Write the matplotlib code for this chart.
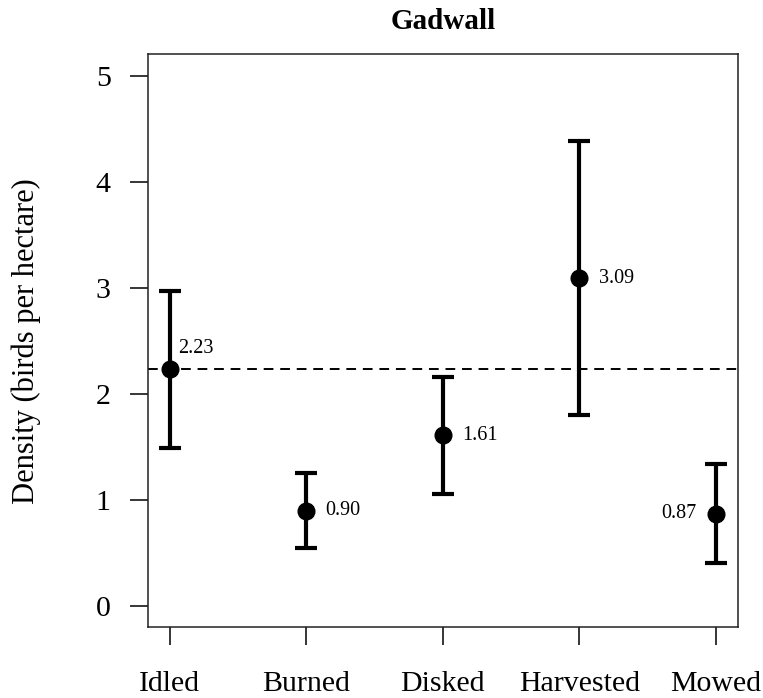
import matplotlib
matplotlib.use("Agg")
import matplotlib.pyplot as plt

categories = ["Idled", "Burned", "Disked", "Harvested", "Mowed"]
density = [2.23, 0.90, 1.61, 3.09, 0.87]
lower = [1.49, 0.55, 1.06, 1.80, 0.41]
upper = [2.97, 1.25, 2.16, 4.38, 1.335]
labels = ["2.23", "0.90", "1.61", "3.09", "0.87"]
reference = 2.23
yticks = [0, 1, 2, 3, 4, 5]

plt.rcParams['font.family'] = ['Liberation Serif', 'DejaVu Serif']

fig = plt.figure(figsize=(7.63, 6.98), dpi=100)
ax = fig.add_axes([147.7/763, 1-627.3/698, (737.7-147.7)/763, (627.3-54.3)/698])

x = list(range(1, len(categories)+1))
yerr = [[d - l for d, l in zip(density, lower)], [u - d for d, u in zip(density, upper)]]

ax.axhline(reference, color='black', lw=1.4, linestyle=(0, (5, 3.5)), zorder=1)
ax.errorbar(x, density, yerr=yerr, fmt='o', color='black', ms=12, elinewidth=3,
            capsize=8, capthick=3, zorder=3)

for xi, d, lab in zip(x, density, labels):
    if lab == "2.23":
        ax.annotate(lab, (xi, d), xytext=(6, 15), textcoords='offset points',
                    ha='left', va='center', fontsize=14.5)
    elif lab == "0.87":
        ax.annotate(lab, (xi, d), xytext=(-14, 0), textcoords='offset points',
                    ha='right', va='center', fontsize=14.5)
    else:
        ax.annotate(lab, (xi, d), xytext=(14, 0), textcoords='offset points',
                    ha='left', va='center', fontsize=14.5)

ax.set_xlim(0.84, 5.16)
ax.set_ylim(-0.2, 5.2)
ax.set_xticks(x)
ax.set_xticklabels(categories, fontsize=21.5)
ax.set_yticks(yticks)
ax.set_yticklabels([str(t) for t in yticks], fontsize=21.5)
ax.tick_params(axis='both', direction='out', length=12.7, width=1.1, color='black')
ax.tick_params(axis='x', pad=19)
ax.tick_params(axis='y', pad=14)
for s in ax.spines.values():
    s.set_linewidth(1.1)
    s.set_color('#222222')

ax.set_ylabel("Density (birds per hectare)", fontsize=22, labelpad=39)
ax.set_title("Gadwall", fontsize=21, fontweight='bold', pad=18)

fig.savefig("out.png", dpi=100)
